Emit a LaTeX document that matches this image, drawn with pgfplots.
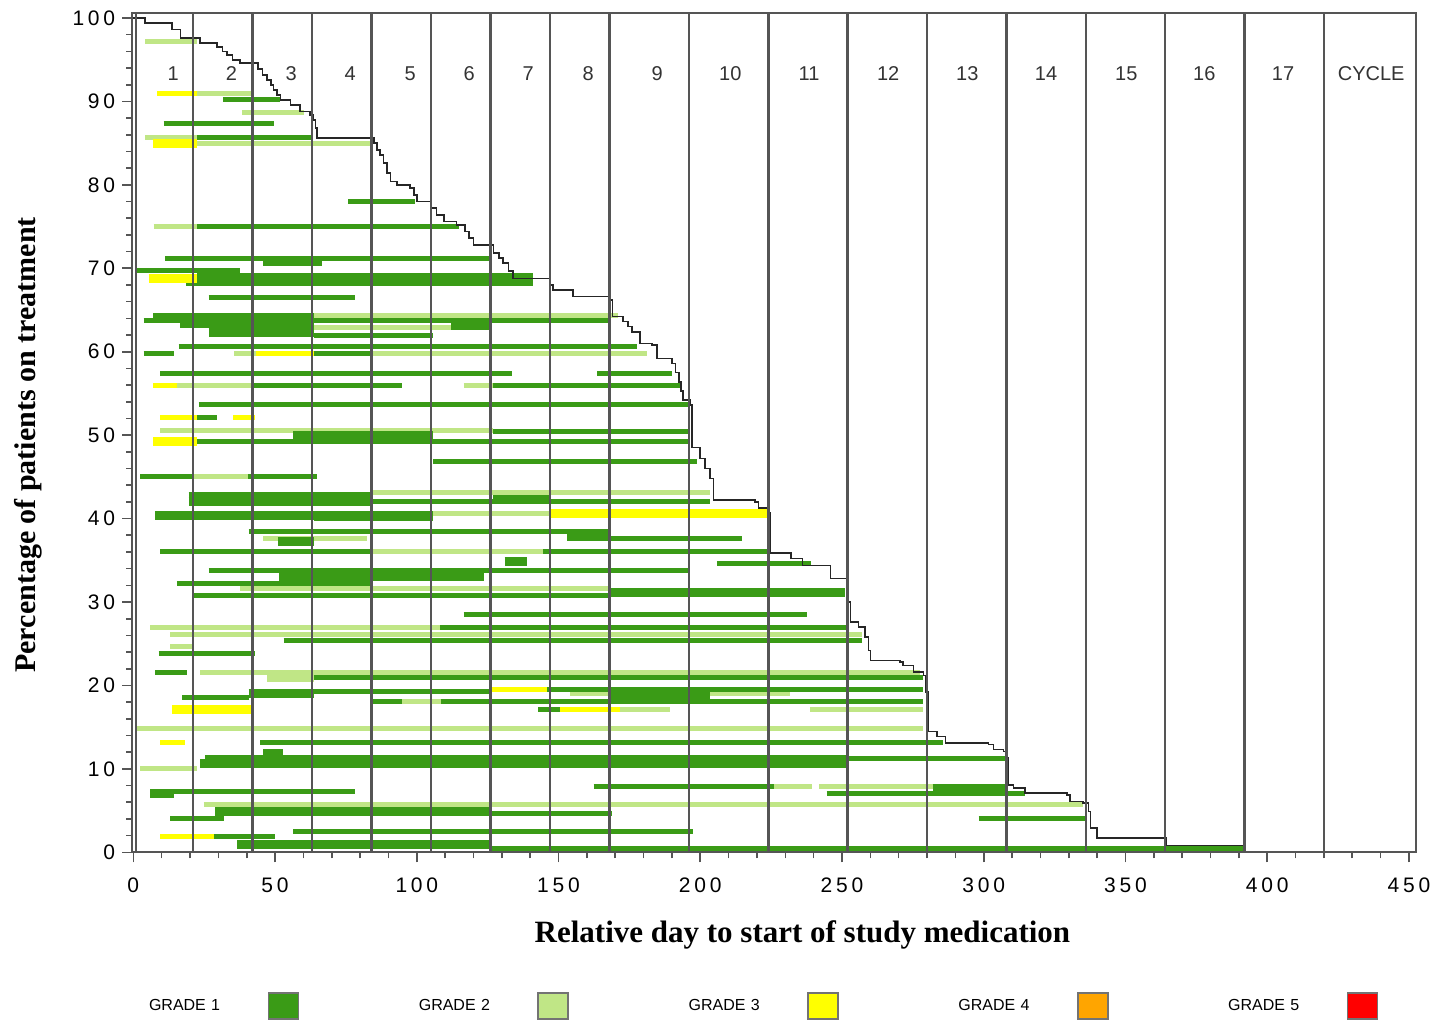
\documentclass[border=0pt]{standalone}
\usepackage{fontspec}
\setmainfont{Liberation Serif}
\setsansfont{Liberation Sans}
\usepackage{pgfplots}
\pgfplotsset{compat=1.18}
\definecolor{gA}{RGB}{58,155,22}
\definecolor{gB}{RGB}{192,230,134}
\definecolor{gC}{RGB}{255,255,0}
\definecolor{gD}{RGB}{255,165,0}
\definecolor{gE}{RGB}{255,0,0}
\definecolor{frameC}{RGB}{85,85,85}
\begin{document}
\begin{tikzpicture}
\useasboundingbox (0,0) rectangle (719.5pt,512pt);
\begin{axis}[
  at={(66.1pt,85.85pt)}, anchor=south west,
  scale only axis, width=641.9pt, height=419.65pt,
  xmin=-0.4, xmax=452.5, ymin=0, ymax=100.6,
  xtick={0,50,...,450}, ytick={0,10,...,100},
  minor x tick num=4, minor y tick num=4,
  tick pos=left, tick align=outside,
  major tick length=5pt, minor tick length=3pt,
  every tick/.style={frameC, line width=0.8pt},
  axis line style={draw=frameC, line width=1.1pt},
  /pgf/number format/assume math mode=true,
  tick label style={font=\sffamily\fontsize{10.5}{12}\selectfont\addfontfeatures{LetterSpace=18}},
  xticklabel style={yshift=-4pt},
  xlabel={Relative day to start of study medication},
  ylabel={Percentage of patients on treatment},
  xlabel style={at={(axis description cs:0.5221,-0.0985)}, anchor=center, font=\bfseries\fontsize{15.5}{17}\selectfont},
  ylabel style={at={(axis description cs:-0.0812,0.4853)}, anchor=center, font=\bfseries\fontsize{15}{17}\selectfont},
  legend style={at={(0.01309,-0.1831)}, anchor=west, draw=none, fill=none, inner sep=0pt, outer sep=0pt, /tikz/column sep=0pt,
     nodes={inner sep=0pt, anchor=center, text width=36.5pt, align=left, font=\sffamily\fontsize{8}{9}\selectfont}},
  legend columns=5,
  legend plot pos=right,
  legend image code/.code={\path (-23pt,0pt) (75pt,0pt); \draw[#1, draw=black!55, line width=0.8pt] (0pt,-6.5pt) rectangle (15pt,6.5pt);},
]
% Grade 2 thin
\addplot[forget plot, color=gB, line width=2.5pt, quiver={u=\thisrow{x2}-\thisrow{x1}, v=0}] table[x=x1, y=y] {
x1 x2 y
4.2 22.5 97.2
22.5 42.3 91.0
38.3 60.1 88.7
4.2 22.5 85.7
22.5 84.7 84.9
7.2 22.5 75.0
63.6 171 64.4
63.6 112 62.9
35.6 43.4 59.8
84.7 181.2 59.8
15.5 42.3 55.9
116.5 127 55.9
9.5 127 50.6
21.3 40.6 45.1
84.7 203.5 43.1
105.8 147 40.6
45.9 82.4 37.6
84.7 144.6 36.0
37.7 168 31.6
6 108.3 27.0
13 257 26.1
13 20.7 24.7
23.6 277.6 21.6
154 168 19.0
203.5 231.7 19.0
94.8 108.4 18.1
171.8 189.4 17.1
238.8 278.7 17.1
0.7 278.7 14.8
2.5 22.5 10.1
225.9 239.4 7.9
242 282 7.9
24.8 335 5.7
};
% Grade 2 thick
\addplot[forget plot, color=gB, line width=4.5pt, quiver={u=\thisrow{x2}-\thisrow{x1}, v=0}] table[x=x1, y=y] {
x1 x2 y
47.2 63.6 21.0
};
% Grade 1 thin
\addplot[forget plot, color=gA, line width=2.5pt, quiver={u=\thisrow{x2}-\thisrow{x1}, v=0}] table[x=x1, y=y] {
x1 x2 y
31.7 51.9 90.2
10.7 49.5 87.3
22.5 63.5 85.7
75.9 99.5 78.0
22.5 115 75.0
11.3 126.5 71.2
0.7 37.7 69.7
18.7 141 68.2
26.6 78.3 66.5
7.1 63.6 64.4
3.6 63.6 63.8
16.6 63.6 63.2
63.6 168 63.7
63.6 105.8 62.0
16 177.7 60.6
3.6 14.2 59.8
63.6 84.7 59.8
9.5 133.6 57.4
163.6 190 57.4
42.3 94.8 55.9
127 193 55.9
23 195.8 53.7
22.5 29.5 52.1
127 195.8 50.4
22.5 195.8 49.2
105.8 198.8 46.8
2.5 21.3 45.1
40.6 64.8 45.1
84.7 203.5 42.1
63.6 105.8 40.6
63.6 105.8 40.0
40.7 168 38.4
168 214.7 37.6
9.5 84.7 36.0
144.6 224.7 36.0
205.9 239 34.6
26.6 196.5 33.8
15.4 84.7 32.2
21.3 168 30.8
116.5 237.6 28.5
108.3 251.7 27.0
53 257 25.4
8.9 43 23.8
7.8 18.9 21.6
63.6 278.4 21.0
17.2 40.7 18.5
63.6 125.9 19.3
145.9 278.4 19.5
84.7 94.8 18.1
108.4 278.4 18.1
142.9 150.6 17.1
44.8 285.8 13.2
25.4 251.7 11.4
251.7 308.2 11.3
6 78.3 7.3
162.4 225.9 7.9
244.6 314.6 7.1
126.5 168.9 4.6
13 32 4.1
298.2 336.4 4.1
56.5 197.6 2.5
28.3 50.1 1.9
126 392 0.4
};
% Grade 1 thick
\addplot[forget plot, color=gA, line width=4.5pt, quiver={u=\thisrow{x2}-\thisrow{x1}, v=0}] table[x=x1, y=y] {
x1 x2 y
45.9 66.5 70.8
22.5 141 68.9
26.6 63.6 62.3
112 126.5 63.1
56.4 105.8 49.9
19.5 84.7 42.7
19.5 84.7 42.0
127 147 42.3
7.8 63.6 40.4
153 168 37.9
51 63.6 37.3
131 139 34.8
51.3 123.6 33.0
168 251 31.2
40.7 63.6 19.0
168 203.5 18.8
45.9 52.9 11.9
23.6 251.7 10.6
6 14.5 7.0
282 308 7.6
28.9 126.5 4.9
36.6 126 0.9
};
% Grade 3 thin
\addplot[forget plot, color=gC, line width=2.5pt, quiver={u=\thisrow{x2}-\thisrow{x1}, v=0}] table[x=x1, y=y] {
x1 x2 y
8.4 22.5 91.0
43.4 63.6 59.8
7.1 15.5 55.9
9.5 22.5 52.1
35.3 43 52.1
125.9 145.9 19.5
150.6 171.8 17.1
9.5 18.3 13.2
9.5 28.3 1.9
};
% Grade 3 thick
\addplot[forget plot, color=gC, line width=4.5pt, quiver={u=\thisrow{x2}-\thisrow{x1}, v=0}] table[x=x1, y=y] {
x1 x2 y
7.1 22.5 84.9
5.4 22.5 68.8
7.1 22.5 49.2
147 223.5 40.6
13.6 41.9 17.1
};
% percentage on treatment
\addplot[forget plot, const plot, color=black!85, line width=0.8pt] table {
x y
0 100
4.2 99.4
13.6 98.6
16.6 97.6
23.6 97.0
29.5 96.5
31.5 96.0
33 95.6
35 95.0
37.7 94.6
44 93.9
45.5 93.2
47.2 92.6
48.5 92.0
49.5 91.4
50.7 90.8
51.9 90.2
55.4 89.6
58.9 88.8
62.4 88.4
63.6 87.8
64.2 86.8
64.8 85.6
84.8 85.0
86 84.2
87 83.6
88.2 82.6
89.4 81.4
90.7 80.4
93 80.0
97.7 79.6
99 78.8
100 78.0
104.8 77.2
107 76.4
109.5 75.6
114 75.2
117 74.4
118.5 73.6
120 72.8
127 71.8
129 71.2
130.5 70.6
132.3 69.7
134 68.8
147 68.0
148 67.4
155 66.6
167.6 66.2
169 64.2
172.8 63.6
174.5 63.0
176 62.4
178.8 61.0
183 60.8
184.7 59.2
190 58.6
191.2 57.5
192.4 56.4
193.2 55.3
194 54.2
196.5 53.6
197 48.5
200 47.2
201.7 46.0
203.5 44.8
204.7 42.2
219.4 42.0
220.6 41.3
224 40.7
224.7 35.9
232 35.2
236 34.4
246 32.8
251.7 32.6
252.3 30.0
253 27.6
255.8 27.0
258.2 25.8
259.4 24.2
260 23.0
270.5 22.8
271.6 22.4
275.2 21.6
278.7 21.2
279.4 19.2
280.4 14.5
283.5 13.9
286.5 13.1
301.7 12.9
303.4 12.3
307 12.1
308.2 11.3
308.8 8.1
310.5 7.7
314.6 7.1
329.3 6.9
330.5 6.1
335 5.9
336.9 4.9
337.6 2.9
339.9 1.7
364.4 0.8
392.2 0
};
% cycle boundaries
\addplot[forget plot, ycomb, color=frameC, line width=1.2pt] coordinates {
(1,100.6) (21,100.6) (42,100.6) (63,100.6) (84,100.6) (105,100.6) (126,100.6) (147,100.6) (168,100.6)
(196,100.6) (224,100.6) (252,100.6) (280,100.6) (308,100.6) (336,100.6) (364,100.6) (392,100.6) (420,100.6)};
% cycle labels
\begin{scope}[every node/.style={font=\sffamily\fontsize{10}{12}\selectfont, text=black!80}]
\node at (axis cs:14.1,93.3) {1};
\node at (axis cs:34.6,93.3) {2};
\node at (axis cs:55.7,93.3) {3};
\node at (axis cs:76.5,93.3) {4};
\node at (axis cs:97.7,93.3) {5};
\node at (axis cs:118.5,93.3) {6};
\node at (axis cs:139.3,93.3) {7};
\node at (axis cs:160.5,93.3) {8};
\node at (axis cs:184.8,93.3) {9};
\node at (axis cs:210.6,93.3) {10};
\node at (axis cs:238.4,93.3) {11};
\node at (axis cs:266.3,93.3) {12};
\node at (axis cs:294.2,93.3) {13};
\node at (axis cs:322.0,93.3) {14};
\node at (axis cs:350.3,93.3) {15};
\node at (axis cs:377.8,93.3) {16};
\node at (axis cs:405.6,93.3) {17};
\node at (axis cs:436.7,93.3) {CYCLE};
\end{scope}
\addlegendimage{fill=gA}\addlegendentry{GRADE 1}
\addlegendimage{fill=gB}\addlegendentry{GRADE 2}
\addlegendimage{fill=gC}\addlegendentry{GRADE 3}
\addlegendimage{fill=gD}\addlegendentry{GRADE 4}
\addlegendimage{fill=gE}\addlegendentry{GRADE 5}
\end{axis}
\end{tikzpicture}
\end{document}
